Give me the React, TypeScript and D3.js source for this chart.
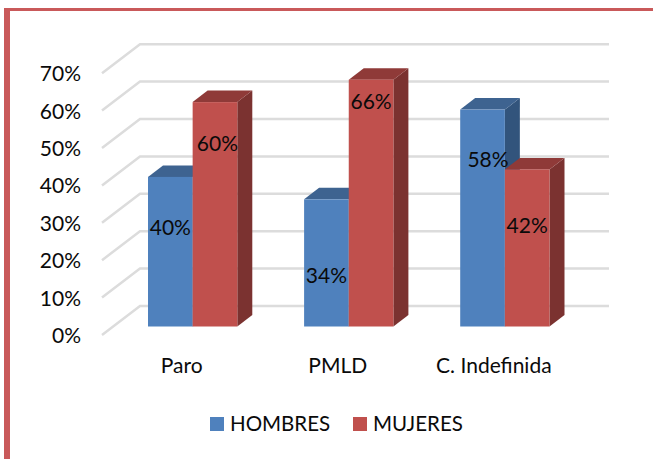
import * as d3 from 'd3';

const CATEGORIES = ['Paro', 'PMLD', 'C. Indefinida'];
const SERIES_NAMES = ['HOMBRES', 'MUJERES'];
const HOMBRES = [40, 34, 58];
const MUJERES = [60, 66, 42];
const TICK_VALUES = [0, 10, 20, 30, 40, 50, 60, 70];

const FRONT = ['#4f81bd', '#c0504d'];
const SIDE = ['#32547c', '#7b3230'];
const TOP = ['#3e6390', '#8f3a38'];
const FONT = 'Lato, Carlito, sans-serif';
const FONT_SIZE = 21;

// hand-placed data labels in the original, offset from the top of each bar
const LABEL_SHIFT: [number, number][][] = [
  [[0, 58], [2.5, 49]],
  [[0, 84], [0, 29]],
  [[5.5, 57], [0, 64]],
];

const y = d3.scaleLinear().domain([0, 70]).range([326.5, 64.7]);
const groupX = d3.scaleBand<string>().domain(CATEGORIES).range([148, 549.5]).paddingInner(0.428).paddingOuter(0);
const barX = d3.scaleBand<string>().domain(SERIES_NAMES).range([0, groupX.bandwidth()]);

const depthBar = { dx: 15, dy: -11.5 };
const wall = { x0: 102, x1: 140, dy: -29, floor: 8.5, right: 609 };

function Bar({ x, w, value, s }: { x: number; w: number; value: number; s: number }) {
  const top = y(value);
  const base = y(0);
  const { dx, dy } = depthBar;
  const path = (pts: number[][]) => d3.line()(pts as [number, number][]) + 'Z';
  return (
    <g>
      <path d={path([[x + w, top], [x + w + dx, top + dy], [x + w + dx, base + dy], [x + w, base]])} fill={SIDE[s]} />
      <path d={path([[x, top], [x + dx, top + dy], [x + w + dx, top + dy], [x + w, top]])} fill={TOP[s]} />
      <rect x={x} y={top} width={w} height={base - top} fill={FRONT[s]} />
    </g>
  );
}

export default function App() {
  const series = [HOMBRES, MUJERES];
  return (
    <svg width={653} height={459} style={{ position: 'absolute', left: 0, top: 0, background: '#fff' }} fontFamily={FONT}>
      {/* page border */}
      <rect x={4} y={8} width={6} height={451} fill="#c9595a" />
      <rect x={4} y={8} width={649} height={3} fill="#c9595a" />

      {/* wall + floor gridlines */}
      {TICK_VALUES.map((t) => {
        const yf = y(t) + wall.floor;
        const yb = yf + wall.dy;
        return (
          <g key={t}>
            <path
              d={d3.line()([[wall.x0, yf], [wall.x1, yb], [wall.right, yb]]) ?? ''}
              fill="none"
              stroke="#dcdcdc"
              strokeWidth={2.5}
            />
            <text x={81} y={yf + 8} textAnchor="end" fontSize={FONT_SIZE} fill="#0a0a0a">
              {t}%
            </text>
          </g>
        );
      })}

      {/* bars */}
      {CATEGORIES.map((c, i) => (
        <g key={c}>
          {SERIES_NAMES.map((n, s) => (
            <Bar key={n} x={(groupX(c) ?? 0) + (barX(n) ?? 0)} w={barX.bandwidth()} value={series[s][i]} s={s} />
          ))}
        </g>
      ))}

      {/* data labels */}
      {CATEGORIES.map((c, i) =>
        SERIES_NAMES.map((n, s) => (
          <text
            key={c + n}
            x={(groupX(c) ?? 0) + (barX(n) ?? 0) + barX.bandwidth() / 2 + LABEL_SHIFT[i][s][0]}
            y={y(series[s][i]) + LABEL_SHIFT[i][s][1]}
            textAnchor="middle"
            fontSize={FONT_SIZE}
            fill="#0a0a0a"
          >
            {series[s][i]}%
          </text>
        )),
      )}

      {/* category labels */}
      {CATEGORIES.map((c) => (
        <text key={c} x={(groupX(c) ?? 0) + groupX.bandwidth() / 2 - 11} y={372.5} textAnchor="middle" fontSize={FONT_SIZE} fill="#0a0a0a">
          {c}
        </text>
      ))}

      {/* legend */}
      {SERIES_NAMES.map((n, s) => {
        const lx = s === 0 ? 210 : 353;
        return (
          <g key={n}>
            <rect x={lx} y={417} width={14} height={14} fill={FRONT[s]} />
            <text x={lx + 20} y={430.5} fontSize={FONT_SIZE - 0.5} fill="#0a0a0a">
              {n}
            </text>
          </g>
        );
      })}
    </svg>
  );
}
